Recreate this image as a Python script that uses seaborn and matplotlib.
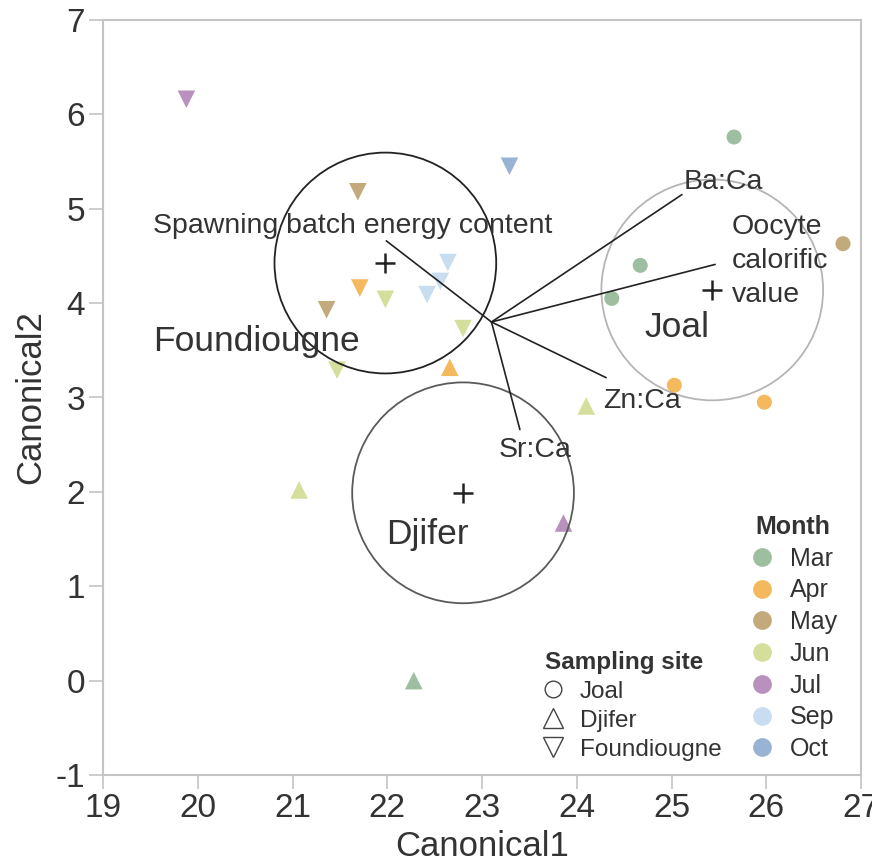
import numpy as np
import pandas as pd
import matplotlib
matplotlib.use("Agg")
import matplotlib.pyplot as plt
import seaborn as sns
from matplotlib.patches import Circle
from matplotlib.lines import Line2D

# ---------------- data ----------------
sites = (["Joal"] * 6) + (["Djifer"] * 5) + (["Foundiougne"] * 11)
months = ["Mar", "Mar", "Mar", "May", "Apr", "Apr",
          "Apr", "Jun", "Jun", "Jul", "Mar",
          "Jul", "Oct", "May", "Sep", "Sep", "Sep", "Apr", "Jun", "May", "Jun", "Jun"]
canonical1 = [25.66, 24.67, 24.37, 26.81, 25.03, 25.98,
              22.66, 24.10, 21.07, 23.86, 22.28,
              19.88, 23.29, 21.69, 22.64, 22.56, 22.42, 21.71, 21.98, 21.36, 22.80, 21.47]
canonical2 = [5.76, 4.40, 4.05, 4.63, 3.13, 2.95,
              3.32, 2.91, 2.02, 1.67, 0.00,
              6.16, 5.45, 5.18, 4.43, 4.23, 4.09, 4.16, 4.04, 3.93, 3.73, 3.29]

month_order = ["Mar", "Apr", "May", "Jun", "Jul", "Sep", "Oct"]
month_colors = ["#9dbf9f", "#f4b95c", "#c3aa7c", "#d5df9b", "#b892bd", "#c9ddf1", "#99b3d5"]

site_order = ["Joal", "Djifer", "Foundiougne"]
site_markers = ["o", "^", "v"]
centroid_c1 = [25.43, 22.80, 21.98]
centroid_c2 = [4.14, 1.99, 4.425]
circle_radius = 1.17
circle_colors = ["#b5b5b5", "#5a5a5a", "#222222"]

ray_origin_c1 = 23.10
ray_origin_c2 = 3.80
ray_labels = ["Ba:Ca", "Oocyte\ncalorific\nvalue", "Zn:Ca", "Sr:Ca",
              "Spawning batch energy content"]
ray_end_c1 = [25.11, 25.46, 24.31, 23.40, 21.99]
ray_end_c2 = [5.15, 4.41, 3.21, 2.66, 4.66]
ray_label_c1 = [25.13, 25.635, 24.28, 23.18, 19.525]
ray_label_c2 = [5.206, 4.015, 2.886, 2.373, 4.740]

site_label_c1 = [24.72, 21.99, 19.525]
site_label_c2 = [3.638, 1.444, 3.493]

x_ticks = [19, 20, 21, 22, 23, 24, 25, 26, 27]
y_ticks = [-1, 0, 1, 2, 3, 4, 5, 6, 7]
y_tick_labels = ["-1", "0", "1", "2", "3", "4", "5", "6", "7"]

df = pd.DataFrame({"Canonical1": canonical1, "Canonical2": canonical2,
                   "Site": sites, "Month": months})

# ---------------- style ----------------
sns.set_style("ticks")
plt.rcParams["font.family"] = ["Liberation Sans", "DejaVu Sans"]
txt = "#333333"
spine_c = "#c4c4c4"

fig = plt.figure(figsize=(8.72, 8.63), dpi=100)
ax = fig.add_axes([103 / 872, 1 - 775 / 863, (861 - 103) / 872, (775 - 20) / 863])

sns.scatterplot(data=df, x="Canonical1", y="Canonical2",
                hue="Month", hue_order=month_order, palette=month_colors,
                style="Site", style_order=site_order,
                markers=dict(zip(site_order, site_markers)),
                size="Site", sizes={"Joal": 117, "Djifer": 160, "Foundiougne": 160},
                linewidth=0, legend=False, ax=ax, zorder=2)

# group circles and centroids
for cx, cy, col in zip(centroid_c1, centroid_c2, circle_colors):
    ax.add_patch(Circle((cx, cy), circle_radius, fill=False, ec=col, lw=1.3, zorder=3))
ax.plot(centroid_c1, centroid_c2, ls="", marker="+", ms=15, mew=1.8, color="#222222", zorder=4)

# biplot rays
for ex, ey in zip(ray_end_c1, ray_end_c2):
    ax.plot([ray_origin_c1, ex], [ray_origin_c2, ey], color="#222222", lw=1.2, zorder=4)
for lab, lx, ly in zip(ray_labels, ray_label_c1, ray_label_c2):
    ax.text(lx, ly, lab, fontsize=20.5, color=txt, ha="left", va="baseline",
            linespacing=1.4, zorder=5)

for lab, lx, ly in zip(site_order, site_label_c1, site_label_c2):
    ax.text(lx, ly, lab, fontsize=25.5, color=txt, ha="left", va="baseline", zorder=5)

# axes
ax.set_xlim(19, 27)
ax.set_ylim(-1, 7)
ax.set_xticks(x_ticks)
ax.set_yticks(y_ticks)
ax.set_yticklabels(y_tick_labels)
ax.set_xlabel("Canonical1", fontsize=25, color=txt, labelpad=4)
ax.set_ylabel("Canonical2", fontsize=25, color=txt, labelpad=6)
ax.tick_params(axis="both", labelsize=24, colors=spine_c, labelcolor=txt,
               length=10, width=1.2, pad=3)
for s in ax.spines.values():
    s.set_color(spine_c)
    s.set_linewidth(1.5)

# legends
month_handles = [Line2D([], [], ls="", marker="o", ms=13.5, mfc=c, mec="none")
                 for c in month_colors]
leg1 = ax.legend(month_handles, month_order, title="Month", loc="upper left",
                 bbox_to_anchor=(0.860, 0.3447), frameon=False, borderpad=0,
                 borderaxespad=0, handlelength=0.56, handletextpad=0.84,
                 labelspacing=0.31, fontsize=18, alignment="left",
                 title_fontproperties={"weight": "bold", "size": 18})
for t in leg1.get_texts():
    t.set_color(txt)
leg1.get_title().set_color(txt)
ax.add_artist(leg1)

site_handles = [Line2D([], [], ls="", marker=m, ms=ms, mfc="none", mec="#444444", mew=1.0)
                for m, ms in zip(site_markers, [12, 15, 15])]
leg2 = ax.legend(site_handles, site_order, title="Sampling site", loc="upper left",
                 bbox_to_anchor=(0.583, 0.164), frameon=False, borderpad=0,
                 borderaxespad=0, handlelength=0.67, handletextpad=0.78,
                 labelspacing=0.28, fontsize=17.5, alignment="left",
                 title_fontproperties={"weight": "bold", "size": 17.5})
for t in leg2.get_texts():
    t.set_color(txt)
leg2.get_title().set_color(txt)

fig.savefig("out.png", dpi=100)
